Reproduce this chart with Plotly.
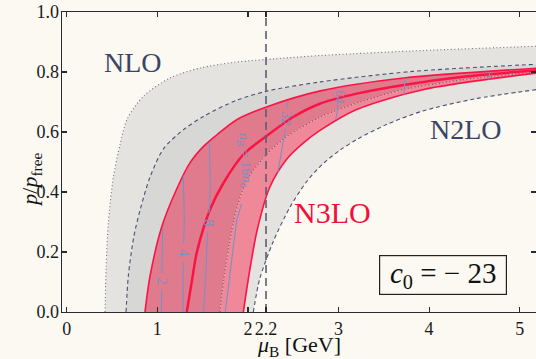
import plotly.graph_objects as go

# ---------------- data ----------------
# NLO band (dotted boundaries)
nlo_hi_mu = [0.423, 0.435, 0.46, 0.515, 0.59, 0.67, 0.85, 1.14, 1.47, 1.84, 2.47, 2.8, 3.8, 5.2]
nlo_hi_p  = [0.0, 0.15, 0.30, 0.45, 0.56, 0.645, 0.72, 0.78, 0.813, 0.832, 0.848, 0.855, 0.87, 0.886]
nlo_lo_mu = [1.69, 1.73, 1.79, 1.88, 2.0, 2.22, 2.43, 2.8, 3.24, 3.72, 4.4, 5.2]
nlo_lo_p  = [0.0, 0.10, 0.22, 0.35, 0.445, 0.53, 0.585, 0.65, 0.70, 0.742, 0.775, 0.80]
# N2LO band (dashed boundaries)
n2lo_hi_mu = [0.655, 0.68, 0.74, 0.81, 0.92, 1.07, 1.29, 1.51, 1.876, 2.22, 2.8, 3.82, 5.2]
n2lo_hi_p  = [0.0, 0.12, 0.25, 0.34, 0.45, 0.545, 0.608, 0.652, 0.706, 0.737, 0.767, 0.802, 0.826]
n2lo_lo_mu = [2.06, 2.13, 2.28, 2.465, 2.65, 2.83, 3.02, 3.2, 3.53, 3.93, 4.5, 5.2]
n2lo_lo_p  = [0.0, 0.11, 0.235, 0.35, 0.435, 0.495, 0.54, 0.575, 0.625, 0.67, 0.71, 0.742]
# N3LO band (red)
n3lo_hi_mu = [0.864, 0.92, 1.05, 1.214, 1.36, 1.51, 1.656, 1.876, 2.22, 2.8, 3.72, 5.2]
n3lo_hi_p  = [0.0, 0.12, 0.285, 0.41, 0.497, 0.552, 0.59, 0.641, 0.685, 0.737, 0.78, 0.813]
n3lo_c_mu  = [1.325, 1.38, 1.435, 1.58, 1.73, 1.95, 2.22, 2.5, 2.8, 3.2, 3.72, 4.4, 5.2]
n3lo_c_p   = [0.0, 0.10, 0.197, 0.34, 0.43, 0.525, 0.59, 0.65, 0.695, 0.728, 0.757, 0.785, 0.806]
n3lo_lo_mu = [1.95, 2.01, 2.10, 2.24, 2.43, 2.61, 2.8, 3.2, 3.93, 5.2]
n3lo_lo_p  = [0.0, 0.12, 0.27, 0.415, 0.51, 0.563, 0.606, 0.675, 0.741, 0.797]

# density contours n_B = k n_0 inside the N3LO band
contours = {
    "2":   ([1.045, 1.048, None, 1.05, 1.06], [0.0, 0.075, None, 0.13, 0.28]),
    "4":   ([1.285, 1.287, None, 1.29, 1.298, 1.287], [0.0, 0.165, None, 0.228, 0.30, 0.455]),
    "8":   ([1.51, 1.535, 1.555, None, 1.572, 1.585, 1.575], [0.0, 0.12, 0.265, None, 0.33, 0.42, 0.565]),
    "16":  ([1.75, 1.81, 1.877, 1.93], [0.0, 0.15, 0.308, 0.36]),
    "32":  ([2.33, 2.38, 2.415, None, 2.43, 2.44], [0.465, 0.55, 0.61, None, 0.68, 0.70]),
    "64":  ([2.97, 2.995, None, 3.03, 3.035], [0.64, 0.69, None, 0.745, 0.748]),
    "128": ([3.72, 3.735], [0.724, 0.779]),
    "256": ([4.66, 4.67], [0.774, 0.80]),
}
contour_labels = [
    ("2", 1.048, 0.102, 90),
    ("4", 1.288, 0.197, 90),
    ("8", 1.565, 0.297, 92),
    ("<i>n</i><sub>B</sub> = 16<i>n</i><sub>0</sub>", 1.962, 0.505, 86),
    ("32", 2.42, 0.645, 95),
    ("64", 3.012, 0.718, 95),
]

x_ticks = [0, 1, 2, 2.2, 3, 4, 5]
x_ticktext = ["0", "1", "2", "2.2", "3", "4", "5"]
y_ticks = [0, 0.2, 0.4, 0.6, 0.8, 1.0]
y_ticktext = ["0.0", "0.2", "0.4", "0.6", "0.8", "1.0"]
mu_line = 2.2

# ---------------- styles ----------------
BG = "#fbf9f1"
LIGHT_GRAY = "#e4e3df"
DARK_GRAY = "#d7d7d5"
DARK_RED = "#e07b8d"
LIGHT_RED = "#ef8898"
RED = "#fa1446"
SLATE = "#4a5272"
BLUE = "#7a90c4"
FONT = "Liberation Serif"

fig = go.Figure()

def curve(mu, p, color, width, dash, fill=None, fillcolor=None):
    fig.add_trace(go.Scatter(
        x=mu, y=p, mode="lines",
        line=dict(color=color, width=width, dash=dash, shape="spline", smoothing=0.8),
        fill=fill if fill else "none", fillcolor=fillcolor,
        hoverinfo="skip", showlegend=False))

# ordered from upper-left to lower-right; each fills to the previous one
curve(nlo_hi_mu, nlo_hi_p, "#6e7080", 1.1, "1px,2.5px")
curve(n2lo_hi_mu, n2lo_hi_p, SLATE, 1.1, "4px,3px", "tonexty", LIGHT_GRAY)
curve(n3lo_hi_mu, n3lo_hi_p, RED, 1.6, "solid", "tonexty", DARK_GRAY)
curve(nlo_lo_mu, nlo_lo_p, "#7a4a60", 1.1, "1px,2.5px", "tonexty", DARK_RED)
curve(n3lo_lo_mu, n3lo_lo_p, RED, 1.6, "solid", "tonexty", LIGHT_RED)
curve(n2lo_lo_mu, n2lo_lo_p, SLATE, 1.1, "4px,3px", "tonexty", LIGHT_GRAY)
# central N3LO line
curve(n3lo_c_mu, n3lo_c_p, RED, 2.5, "solid")

# density contours
for k, (cx, cy) in contours.items():
    fig.add_trace(go.Scatter(x=cx, y=cy, mode="lines",
                             line=dict(color=BLUE, width=1.1),
                             connectgaps=False, hoverinfo="skip", showlegend=False))

# vertical dashed line at mu_B = 2.2
fig.add_trace(go.Scatter(x=[mu_line, mu_line], y=[0, 1], mode="lines",
                         line=dict(color="#5a5e72", width=1.6, dash="8px,5px"),
                         hoverinfo="skip", showlegend=False))

ann = []
for txt, x, y, ang in contour_labels:
    ann.append(dict(x=x, y=y, xref="x", yref="y", text=txt, showarrow=False,
                    textangle=ang, font=dict(family=FONT, size=14, color=BLUE)))

def paper(px, py):
    return (px - 62) / 474, (312.3 - py) / 300

for txt, (px, py), size, color in [
    ("NLO", (132.5, 63), 28, "#3b4466"),
    ("N2LO", (466, 129.5), 28, "#3b4466"),
    ("N3LO", (332.5, 212.5), 30, "#f0103c"),
]:
    x, y = paper(px, py)
    ann.append(dict(x=x, y=y, xref="paper", yref="paper", text=txt, showarrow=False,
                    xanchor="center", yanchor="middle",
                    font=dict(family=FONT, size=size, color=color)))

bx, by = paper(443.3, 275)
ann.append(dict(x=bx, y=by, xref="paper", yref="paper",
                text="<i>c</i><sub>0</sub> = − 23", showarrow=False,
                xanchor="center", yanchor="middle", align="center", valign="middle",
                width=124, height=36,
                bordercolor="#222222", borderwidth=1.2, borderpad=1, bgcolor=BG,
                font=dict(family=FONT, size=29, color="#111111")))

tx, ty = paper(299, 346)
ann.append(dict(x=tx, y=ty, xref="paper", yref="paper",
                text="<i>μ</i><sub>B</sub> [GeV]", showarrow=False,
                xanchor="center", yanchor="middle",
                font=dict(family=FONT, size=22, color="#111111")))
yx, yy = paper(31, 180)
ann.append(dict(x=yx, y=yy, xref="paper", yref="paper",
                text="<i>p</i>/<i>p</i><sub>free</sub>", showarrow=False,
                textangle=-90, xanchor="center", yanchor="middle",
                font=dict(family=FONT, size=22, color="#111111")))

axis_common = dict(showgrid=False, zeroline=False, showline=True, linecolor="#2a2a33",
                   linewidth=1.3, mirror="ticks", ticks="inside", ticklen=5,
                   tickwidth=1.2, tickcolor="#2a2a33", automargin=False,
                   tickfont=dict(family=FONT, size=18, color="#1a1a1a"))

fig.update_layout(
    width=536, height=359,
    margin=dict(l=62, r=0, t=12, b=47, autoexpand=False),
    paper_bgcolor=BG, plot_bgcolor=BG,
    xaxis=dict(range=[-0.052, 5.18], tickvals=x_ticks, ticktext=x_ticktext, **axis_common),
    yaxis=dict(range=[0, 1], tickvals=y_ticks, ticktext=y_ticktext,
               ticklabelstandoff=-2, **axis_common),
    annotations=ann,
    showlegend=False,
)

fig.write_html(
    "out.html",
    config={"displayModeBar": False, "staticPlot": True},
    post_script="document.body.style.margin='0';document.body.style.padding='0';"
                "document.body.style.background='" + BG + "';"
                "document.body.style.overflow='hidden';",
)
